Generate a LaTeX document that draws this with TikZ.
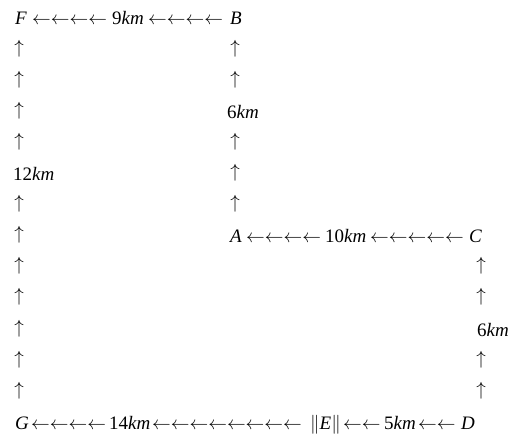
\RequirePackage{fix-cm}
\documentclass[tikz,border=0pt]{standalone}
\usepackage{fontspec}
\setmainfont{Liberation Serif}

\begin{document}
\begin{tikzpicture}[x=1bp,y=-1bp,
  every node/.style={inner sep=0pt,font=\fontsize{19bp}{23bp}\selectfont},
  txt/.style={anchor=base west},
  arr/.style={anchor=base west,font=\fontsize{18.7bp}{22bp}\selectfont},
  up/.style={anchor=base}]
\useasboundingbox (0,0) rectangle (516,445);
% top row F -- B
\node  (F) at (15,25)  [txt] {\textit{F}};
\node (fb1) at (32,25)  [arr] {$\leftarrow\leftarrow\leftarrow\leftarrow$};
\node (fbk) at (112,25) [txt] {9\textit{km}};
\node (fb2) at (148,25) [arr] {$\leftarrow\leftarrow\leftarrow\leftarrow$};
\node  (B) at (230,25) [txt] {\textit{B}};
% middle row A -- C
\node  (A) at (230,242.7) [txt] {\textit{A}};
\node (ac1) at (246,242.7) [arr] {$\leftarrow\leftarrow\leftarrow\leftarrow$};
\node (ack) at (325,242.7) [txt] {10\textit{km}};
\node (ac2) at (370,242.7) [arr] {$\leftarrow\leftarrow\leftarrow\leftarrow\leftarrow$};
\node  (C) at (469,242.7) [txt] {\textit{C}};
% bottom row G -- D
\node  (G) at (15,429.3)  [txt] {\textit{G}};
\node (ge1) at (31,429.3)  [arr] {$\leftarrow\leftarrow\leftarrow\leftarrow$};
\node (gek) at (109,429.3) [txt] {14\textit{km}};
\node (ge2) at (152,429.3) [arr] {$\leftarrow\leftarrow\leftarrow\leftarrow\leftarrow\leftarrow\leftarrow\leftarrow$};
\node  (E) at (310,429.3) [txt] {$\|$\textit{E}$\|$};
\node (ed1) at (343,429.3) [arr] {$\leftarrow\leftarrow$};
\node (edk) at (384,429.3) [txt] {5\textit{km}};
\node (ed2) at (418,429.3) [arr] {$\leftarrow\leftarrow$};
\node  (D) at (461,429.3) [txt] {\textit{D}};
% columns
\foreach \k in {1,2,3,4,6,7,8,9,10,11,12}
  \node (gf\k) at (19,{22+31.1*\k}) [up] {$\uparrow$};
\foreach \k in {1,2,4,5,6}
  \node (ab\k) at (235,{22+31.1*\k}) [up] {$\uparrow$};
\foreach \k in {8,9,11,12}
  \node (dc\k) at (481,{22+31.1*\k}) [up] {$\uparrow$};
\node (gfk) at (13,{25+31.1*5})  [txt] {12\textit{km}};
\node (abk) at (227,{25+31.1*3}) [txt] {6\textit{km}};
\node (dck) at (477,{25+31.1*10}) [txt] {6\textit{km}};
\end{tikzpicture}
\end{document}
